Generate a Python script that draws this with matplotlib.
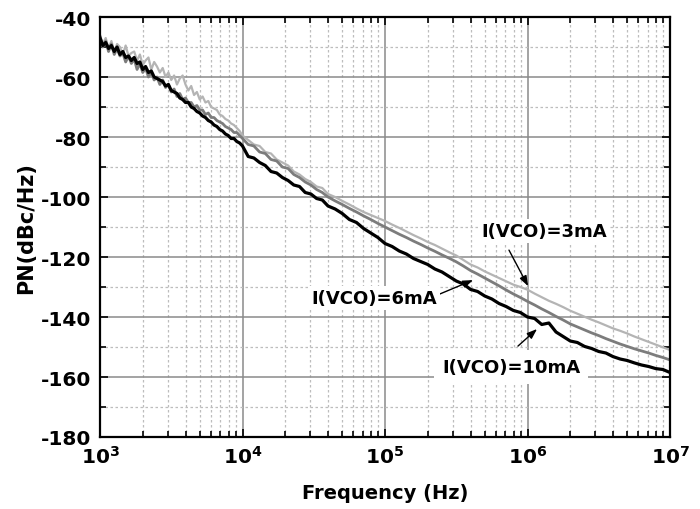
import matplotlib
matplotlib.use("Agg")
import matplotlib.pyplot as plt
import numpy as np
from matplotlib.ticker import FixedLocator, FuncFormatter

# log10 of offset frequency (Hz)
log_freq = [3.00, 3.02, 3.04, 3.06, 3.08, 3.10, 3.12, 3.14, 3.16, 3.18,
            3.20, 3.22, 3.24, 3.26, 3.28, 3.30, 3.32, 3.34, 3.36, 3.38,
            3.40, 3.42, 3.44, 3.46, 3.48, 3.50, 3.52, 3.54, 3.56, 3.58,
            3.60, 3.62, 3.64, 3.66, 3.68, 3.70, 3.72, 3.74, 3.76, 3.78,
            3.80, 3.82, 3.84, 3.86, 3.88, 3.90, 3.92, 3.94, 3.96, 3.98,
            4.00, 4.04, 4.08, 4.12, 4.16, 4.20, 4.24, 4.28, 4.32, 4.36,
            4.40, 4.44, 4.48, 4.52, 4.56, 4.60,
            4.65, 4.70, 4.75, 4.80, 4.85, 4.90, 4.95, 5.00, 5.05, 5.10,
            5.15, 5.20, 5.25, 5.30, 5.35, 5.40, 5.45, 5.50, 5.55, 5.60,
            5.65, 5.70, 5.75, 5.80, 5.85, 5.90, 5.95, 6.00, 6.05, 6.10,
            6.15, 6.20, 6.25, 6.30, 6.35, 6.40, 6.45, 6.50, 6.55, 6.60,
            6.65, 6.70, 6.75, 6.80, 6.85, 6.90, 6.95, 7.00]

pn_10mA = [-47.0, -49.5, -48.5, -50.5, -49.5, -51.5, -50.0, -52.5, -51.5, -53.5,
           -53.0, -54.5, -53.5, -55.5, -55.0, -57.5, -56.5, -58.5, -58.0, -60.0,
           -60.5, -61.0, -61.5, -63.0, -62.5, -64.5, -65.0, -65.5, -67.0, -67.5,
           -68.5, -68.5, -70.0, -70.5, -71.5, -72.0, -73.0, -73.5, -74.5, -75.0,
           -76.0, -76.5, -77.5, -78.0, -79.0, -79.5, -80.5, -80.5, -81.5, -82.0,
           -83.0, -86.5, -87.0, -88.5, -89.5, -91.5, -92.0, -93.5, -94.5, -96.0,
           -96.5, -98.5, -99.0, -100.5, -101.0, -103.0,
           -104.0, -105.5, -107.5, -108.5, -110.5, -112.0, -113.5, -115.5, -116.5, -118.0,
           -119.0, -120.5, -121.5, -122.5, -124.0, -125.0, -126.5, -128.0, -129.0, -130.8,
           -131.5, -133.0, -134.0, -135.5, -136.5, -137.8, -138.5, -140.0, -140.5, -142.5,
           -142.0, -145.0, -146.5, -148.0, -148.5, -149.8, -150.5, -151.5, -152.0, -153.2,
           -154.0, -154.5, -155.3, -156.0, -156.5, -157.2, -157.5, -158.5]

pn_6mA = [-46.5, -50.0, -48.0, -51.5, -49.0, -52.5, -50.5, -53.0, -52.0, -55.0,
          -53.0, -55.5, -54.0, -57.5, -55.5, -58.5, -57.0, -60.0, -58.5, -61.0,
          -60.0, -62.5, -61.0, -63.5, -62.5, -65.0, -64.0, -66.5, -65.5, -67.5,
          -67.0, -68.5, -68.5, -70.0, -69.5, -71.0, -71.0, -72.5, -72.0, -73.5,
          -73.5, -74.5, -75.0, -75.5, -76.5, -77.0, -77.5, -78.5, -78.5, -79.5,
          -80.5, -82.5, -83.0, -85.0, -85.5, -87.5, -88.0, -90.0, -90.5, -92.5,
          -93.5, -95.0, -96.0, -97.5, -98.5, -100.0,
          -101.3, -102.5, -103.8, -105.0, -106.3, -107.5, -108.8, -110.0, -111.2, -112.4,
          -113.5, -114.7, -115.8, -117.0, -118.1, -119.3, -120.4, -121.6, -123.0, -124.5,
          -125.7, -127.0, -128.3, -129.6, -131.0, -132.3, -133.5, -134.8, -136.0, -137.3,
          -138.5, -139.8, -141.0, -142.3, -143.3, -144.3, -145.3, -146.2, -147.2, -148.1,
          -149.0, -149.8, -150.6, -151.3, -152.0, -152.8, -153.5, -154.3]

pn_3mA = [-46.0, -49.0, -47.0, -50.5, -48.0, -51.5, -49.0, -50.0, -52.5, -49.5,
          -53.0, -52.0, -51.5, -54.5, -52.5, -56.0, -54.5, -53.5, -57.5, -55.0,
          -56.5, -58.5, -57.0, -60.0, -58.5, -61.0, -59.5, -62.5, -60.5, -59.5,
          -62.5, -64.5, -63.0, -66.0, -65.0, -67.5, -66.5, -68.5, -68.0, -70.0,
          -70.5, -71.0, -72.5, -73.0, -74.0, -74.5, -75.5, -76.0, -77.0, -78.0,
          -79.5, -81.0, -82.5, -83.0, -85.0, -85.5, -87.5, -88.5, -89.5, -91.5,
          -92.5, -94.0, -95.0, -96.5, -97.0, -99.0,
          -100.0, -101.3, -102.5, -103.8, -105.0, -106.0, -107.0, -108.0, -109.2, -110.3,
          -111.5, -112.7, -113.8, -115.0, -116.0, -117.2, -118.4, -119.5, -121.0, -122.5,
          -123.5, -124.8, -125.9, -127.0, -128.1, -129.2, -130.0, -130.9, -132.2, -133.4,
          -134.6, -135.6, -136.7, -137.9, -138.9, -139.9, -140.9, -141.8, -142.8, -143.8,
          -144.6, -145.5, -146.5, -147.4, -148.3, -149.2, -150.1, -151.0]

y_ticks = [-180, -160, -140, -120, -100, -80, -60, -40]
x_decades = [3, 4, 5, 6, 7]
labels = ["I(VCO)=3mA", "I(VCO)=6mA", "I(VCO)=10mA"]

assert len(log_freq) == len(pn_10mA) == len(pn_6mA) == len(pn_3mA)

plt.rcParams['font.family'] = ['DejaVu Sans']
plt.rcParams['mathtext.fontset'] = 'dejavusans'

fig = plt.figure(figsize=(7.0, 5.1), dpi=100)
ax = fig.add_axes([100/700, 1 - 438/510, 570/700, 420/510])

freq = 10.0 ** np.array(log_freq)
ax.plot(freq, pn_3mA, color='#b4b4b4', lw=1.6, zorder=3)
ax.plot(freq, pn_6mA, color='#7c7c7c', lw=2.0, zorder=4)
ax.plot(freq, pn_10mA, color='black', lw=2.3, zorder=5)

ax.set_xscale('log')
ax.set_xlim(10.0 ** x_decades[0], 10.0 ** x_decades[-1])
ax.set_ylim(y_ticks[0], y_ticks[-1])

ax.xaxis.set_major_locator(FixedLocator([10.0 ** d for d in x_decades]))
minor_x = [m * 10.0 ** d for d in x_decades[:-1] for m in range(2, 10)]
ax.xaxis.set_minor_locator(FixedLocator(minor_x))
ax.xaxis.set_major_formatter(FuncFormatter(
    lambda v, p: r'$\mathbf{10^{%d}}$' % int(round(np.log10(v)))))
ax.yaxis.set_major_locator(FixedLocator(y_ticks))
ax.yaxis.set_minor_locator(FixedLocator([v + 10 for v in y_ticks[:-1]]))
ax.set_yticklabels([str(v) for v in y_ticks], fontweight='bold')

ax.tick_params(which='both', direction='in', top=True, right=True, width=1.2)
ax.tick_params(which='major', length=6, labelsize=14.5, pad=6)
ax.tick_params(which='minor', length=4)

ax.grid(which='major', color='#8a8a8a', lw=1.1, ls='-', zorder=1)
ax.grid(which='minor', color='#bdbdbd', lw=0.9, ls=(0, (2, 2)), zorder=1)
ax.set_axisbelow(True)
for s in ax.spines.values():
    s.set_linewidth(1.6)
    s.set_zorder(6)

ax.set_xlabel('Frequency (Hz)', fontsize=14, fontweight='bold', labelpad=11)
ax.set_ylabel('PN(dBc/Hz)', fontsize=15, fontweight='bold', labelpad=4)

bbox = dict(boxstyle='square,pad=0.15', fc='white', ec='none')
arrow = dict(arrowstyle='-|>,head_length=0.6,head_width=0.22', color='black', lw=1.0,
             shrinkA=0, shrinkB=0)
ax.annotate('', xy=(10 ** 6.004, -129.7), xytext=(10 ** 5.87, -117.7),
            arrowprops=arrow, zorder=7)
ax.text(10 ** 6.116, -111.3, labels[0], fontsize=13, fontweight='bold',
        ha='center', va='center', bbox=bbox, zorder=7)
ax.annotate('', xy=(10 ** 5.618, -127.7), xytext=(10 ** 5.351, -133.0),
            arrowprops=arrow, zorder=7)
ax.text(10 ** 4.923, -133.7, labels[1], fontsize=13, fontweight='bold',
        ha='center', va='center', bbox=bbox, zorder=7)
ax.annotate('', xy=(10 ** 6.067, -144.0), xytext=(10 ** 5.933, -149.7),
            arrowprops=arrow, zorder=7)
ax.text(10 ** 5.884, -156.7, labels[2], fontsize=13, fontweight='bold',
        ha='center', va='center',
        bbox=dict(boxstyle='square,pad=0.45', fc='white', ec='none'), zorder=7)

fig.savefig('out.png', dpi=100)
